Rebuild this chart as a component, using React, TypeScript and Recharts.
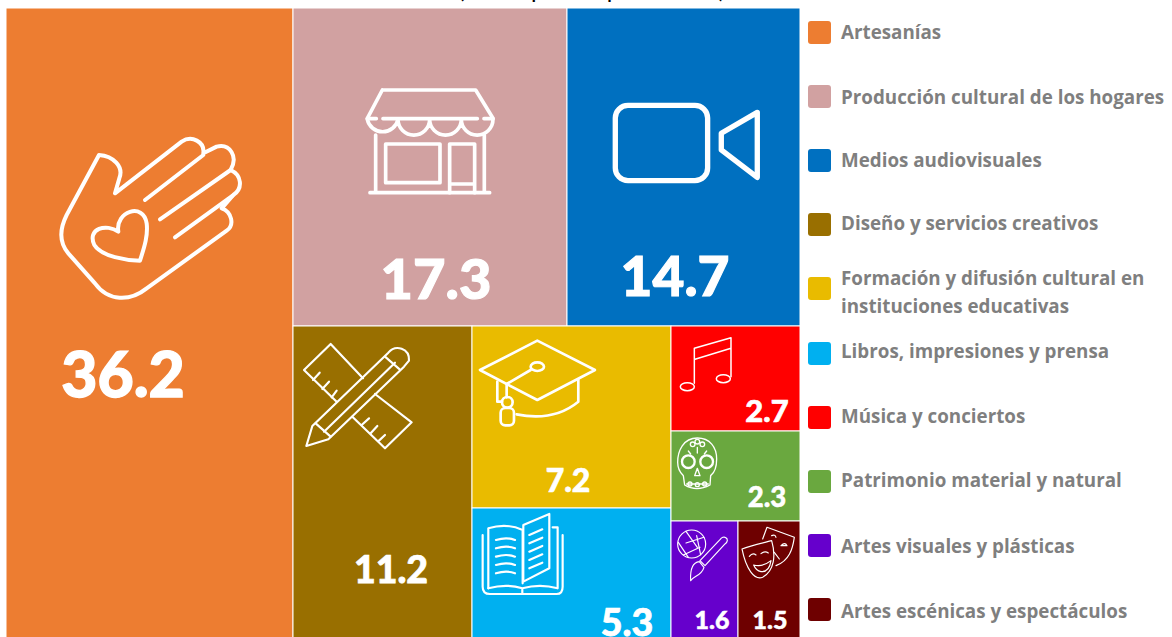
import { Treemap } from 'recharts';

const categories = [
  'Artesanías',
  'Producción cultural de los hogares',
  'Medios audiovisuales',
  'Diseño y servicios creativos',
  'Formación y difusión cultural en instituciones educativas',
  'Libros, impresiones y prensa',
  'Música y conciertos',
  'Patrimonio material y natural',
  'Artes visuales y plásticas',
  'Artes escénicas y espectáculos',
];
const values = [36.2, 17.3, 14.7, 11.2, 7.2, 5.3, 2.7, 2.3, 1.6, 1.5];
const colors = ['#ED7D31', '#D1A1A1', '#0070C0', '#996F00', '#E9BB00', '#00B0F0', '#FF0000', '#6AA83F', '#6600CC', '#6E0000'];

const leaf = (i: number) => ({ name: categories[i], value: values[i], index: i });

// nested so the squarify layout splits the same way as the original
const tree = [
  leaf(0),
  {
    name: 'resto',
    children: [
      { name: 'arriba', children: [leaf(1), leaf(2)] },
      {
        name: 'abajo',
        children: [
          leaf(3),
          {
            name: 'derecha',
            children: [
              { name: 'col1', children: [leaf(4), leaf(5)] },
              { name: 'col2', children: [leaf(6), leaf(7), { name: 'par', children: [leaf(8), leaf(9)] }] },
            ],
          },
        ],
      },
    ],
  },
];

// label centre x, baseline y (relative to the cell) and font size, by category index
const labelStyle = [
  [117, 389, 62.5],
  [143, 291, 56],
  [108, 288, 55],
  [98, 257, 37.5],
  [96, 166, 32],
  [155, 128, 37.5],
  [96, 96, 31],
  [96, 76, 27.5],
  [41, 108, 25],
  [32, 108, 25],
];

// legend labels do not sit exactly on the swatch centre in the original
const legendNudge = [-1, 0, -1, -2, 3, -2, -1, -1, 1, 2];

// icons are sketched at 3x, offset from the cell corner
const Icon = ({ i }: { i: number }) => {
  const common = { fill: 'none', stroke: '#fff', strokeLinecap: 'round' as const, strokeLinejoin: 'round' as const };
  if (i === 0) {
    return (
      <g {...common} strokeWidth={12} transform="translate(-6,92) scale(0.3333)">
        <path d="M297 165 C340 168 372 200 358 235 L345 280 L545 125 C575 105 615 125 610 160 L650 140 C690 130 715 170 692 210 C725 225 730 265 700 285 L665 325 C695 335 705 375 680 392 L440 565 C390 605 325 605 285 550 L205 460 C175 425 180 385 200 345 Z" />
        <path d="M435 300 L610 165 M480 358 L692 210 M525 412 L698 287" />
        <path d="M355 395 C345 335 430 305 440 370 C445 410 430 450 420 482 C380 482 305 470 283 435 C260 385 320 370 355 395 Z" />
      </g>
    );
  }
  if (i === 1) {
    return (
      <g {...common} strokeWidth={11} transform="translate(6,-8) scale(0.3333)">
        <path d="M250 270 H530 L582 355 M250 270 L205 355" />
        <path d="M205 356 H232 M252 356 H535 M555 356 H582" />
        <path d="M205 358 A47 47 0 0 0 297 358 A47 47 0 0 0 392 358 A47 47 0 0 0 487 358 A47 47 0 0 0 582 358" />
        <path d="M230 405 V578 M556 405 V578 M213 578 H572" />
        <rect x={260} y={432} width={163} height={116} />
        <path d="M452 578 V432 H527 V578 M452 552 H527" />
      </g>
    );
  }
  if (i === 2) {
    return (
      <g {...common} strokeWidth={16} transform="translate(-267,-8) scale(0.3333)">
        <rect x={946} y={316} width={277} height={226} rx={38} />
        <path d="M1372 337 L1264 400 V450 L1372 532 Z" />
      </g>
    );
  }
  if (i === 3) {
    return (
      <g {...common} strokeWidth={6.5} transform="translate(-4,-6) scale(0.3333)">
        <path d="M222 175 L125 72 L45 150 L143 245 M258 222 L368 307 L288 385 L190 290" />
        <path d="M72 180 L92 158 M100 207 L120 185 M128 232 L143 212 M218 315 L240 295 M245 340 L265 318 M270 362 L288 345" />
        <path d="M70 318 L298 98 C320 72 362 85 360 122 L345 140 L118 358 L52 378 Z" />
        <path d="M105 335 L318 128 M80 310 L125 350 M288 110 L332 148" />
      </g>
    );
  }
  if (i === 4) {
    return (
      <g {...common} strokeWidth={8} transform="translate(-182,-6) scale(0.3333)">
        <path d="M742 62 L570 150 L742 240 L915 150 Z" />
        <ellipse cx={742} cy={140} rx={20} ry={13} />
        <path d="M722 150 L650 192 V232 M622 185 V245 H636" />
        <circle cx={652} cy={247} r={16} />
        <rect x={632} y={264} width={40} height={52} rx={14} />
        <path d="M865 178 V245 C810 290 740 295 680 283" />
      </g>
    );
  }
  if (i === 5) {
    return (
      <g {...common} strokeWidth={6.5} transform="translate(-182,-188) scale(0.3333)">
        <path d="M578 645 V800 Q578 822 600 822 H800 Q818 822 818 800 V645" />
        <path d="M595 805 V625 Q650 608 698 630 V790 M700 615 L778 582 V745 L700 785 Z" />
        <path d="M788 622 H803 V805 Q750 790 697 805 Q650 790 595 805 M697 805 V822" />
        <path d="M618 660 Q650 650 675 660 M618 685 Q650 675 675 685 M618 710 Q650 700 675 710 M618 735 Q650 725 675 735 M618 760 Q650 750 675 760" />
        <path d="M718 645 L757 628 M718 670 L757 653 M718 695 L757 678 M718 720 L757 703 M718 745 L757 728" />
      </g>
    );
  }
  if (i === 6) {
    return (
      <g {...common} strokeWidth={4.5} transform="translate(-11,-6) scale(0.3333)">
        <path d="M103 190 V85 L213 53 V170 M105 118 L213 85" />
        <ellipse cx={82} cy={200} rx={21} ry={12} />
        <ellipse cx={190} cy={176} rx={21} ry={12} />
      </g>
    );
  }
  if (i === 7) {
    return (
      <g {...common} strokeWidth={4} transform="translate(-11,-112) scale(0.3333)">
        <path d="M112 357 C70 357 53 395 53 430 C53 455 65 465 70 470 L74 498 Q110 520 150 498 L152 470 C165 460 170 445 170 420 C170 385 150 357 112 357 Z" />
        <circle cx={85} cy={428} r={19} strokeWidth={7} />
        <circle cx={140} cy={428} r={19} strokeWidth={7} />
        <path d="M112 448 L104 470 H120 Z M80 495 H145" />
        <circle cx={98} cy={376} r={7} />
        <circle cx={112} cy={368} r={7} />
        <circle cx={127} cy={376} r={7} />
        <path d="M85 396 L92 405 M140 396 L133 405 M112 385 V402" />
        <circle cx={90} cy={495} r={6} />
        <circle cx={112} cy={497} r={6} />
        <circle cx={134} cy={495} r={6} />
      </g>
    );
  }
  if (i === 8) {
    return (
      <g {...common} strokeWidth={3.5} transform="translate(-11,-202) scale(0.3333)">
        <circle cx={95} cy={675} r={42} />
        <path d="M78 637 L112 685 M132 655 L78 672 M122 708 L110 650 M70 708 L120 685 M55 670 L85 715" />
        <path d="M197 656 C205 660 203 670 195 675 L135 740 L120 725 L180 662 C185 655 192 652 197 656 Z" />
        <path d="M118 728 C100 730 90 750 92 785 C100 772 125 770 132 745 Z" />
      </g>
    );
  }
  return (
    <g {...common} strokeWidth={3.5} transform="translate(-77,-202) scale(0.3333)">
      <path d="M243 690 C270 680 305 672 332 665 C345 710 340 755 305 775 C280 785 255 750 243 690 Z" />
      <path d="M305 660 L318 625 L400 655 C395 690 385 725 345 740" />
      <path d="M265 712 Q275 700 285 708 M300 704 Q312 695 322 702 M278 738 Q305 745 330 725 Q325 760 300 758 Q285 755 278 738 Z" />
      <path d="M332 650 Q342 645 345 655 M360 680 Q372 668 378 680 Z M340 700 L355 720" />
    </g>
  );
};

const renderCell = (props: any) => {
  const { x, y, width, height, index, children } = props;
  if (children && children.length) return <g />;
  const i = categories.indexOf(props.name);
  if (i < 0) return <g />;
  const [lx, ly, fs] = labelStyle[i];
  return (
    <g transform={`translate(${x},${y})`} key={index}>
      <rect width={width} height={height} fill={colors[i]} stroke="#fff" strokeWidth={1} />
      <Icon i={i} />
      <text
        x={lx}
        y={ly}
        textAnchor="middle"
        fill="#fff"
        stroke="#fff"
        strokeWidth={fs * 0.02}
        fontFamily="Lato"
        fontWeight={900}
        fontSize={fs}
      >
        {values[i]}
      </text>
    </g>
  );
};

export default function App() {
  return (
    <div style={{ position: 'absolute', left: 0, top: 0, width: 1172, height: 637, overflow: 'hidden', background: '#fff' }}>
      <div
        style={{
          position: 'absolute', left: 458, top: -25, width: 265, textAlign: 'center', whiteSpace: 'nowrap',
          fontFamily: 'Lato', fontSize: 24, lineHeight: '27px', color: '#000',
        }}
      >
        (Participación porcentual)
      </div>
      <div style={{ position: 'absolute', left: 6, top: 8 }}>
        <Treemap
          width={794}
          height={634}
          data={tree}
          dataKey="value"
          nameKey="name"
          type="flat"
          aspectRatio={1}
          isAnimationActive={false}
          isUpdateAnimationActive={false}
          content={renderCell}
        />
      </div>
      {categories.map((c, i) => (
        <div key={c} style={{ position: 'absolute', left: 808, top: 21 + i * 64.1, height: 23, display: 'flex', alignItems: 'center' }}>
          <span style={{ width: 23, height: 23, borderRadius: 3, background: colors[i], flex: 'none' }} />
          <span
            style={{
              marginLeft: 10, width: 330, fontFamily: 'Open Sans', fontWeight: 700, fontSize: 18.8, lineHeight: '28px', color: '#7F7F7F',
              whiteSpace: i === 4 ? 'normal' : 'nowrap', position: 'relative', top: legendNudge[i],
            }}
          >
            {c}
          </span>
        </div>
      ))}
    </div>
  );
}
